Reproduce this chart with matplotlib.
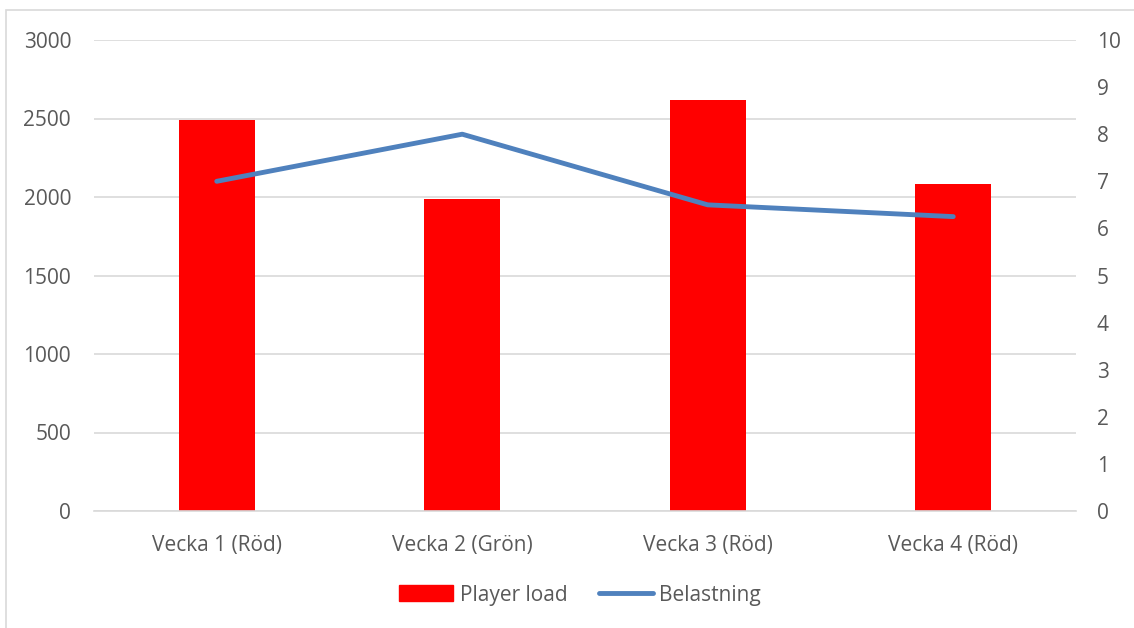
import matplotlib
matplotlib.use("Agg")
import matplotlib.pyplot as plt
from matplotlib.patches import Rectangle
from matplotlib.lines import Line2D

categories = ["Vecka 1 (Röd)", "Vecka 2 (Grön)", "Vecka 3 (Röd)", "Vecka 4 (Röd)"]
player_load = [2490, 1990, 2620, 2080]
belastning = [7.0, 8.0, 6.5, 6.25]
left_ticks = [0, 500, 1000, 1500, 2000, 2500, 3000]
right_ticks = list(range(0, 11))

plt.rcParams['font.family'] = ['Open Sans', 'DejaVu Sans']
txt = '#595959'
fs = 15
W, H = 1134, 628
fig = plt.figure(figsize=(W/100, H/100), dpi=100)
ax = fig.add_axes([94/W, 1-511/H, (1076-94)/W, (511-40)/H])
x = list(range(len(categories)))
ax.bar(x, player_load, width=0.31, color='#FF0000', zorder=2, label='Player load')
ax.set_xlim(-0.5, 3.5)
ax.set_ylim(0, 3000)
ax.set_yticks(left_ticks)
ax.grid(axis='y', color='#D9D9D9', linewidth=1.2, zorder=0)
for s in ['top', 'left', 'right']:
    ax.spines[s].set_visible(False)
ax.spines['bottom'].set_color('#D9D9D9')
ax.spines['bottom'].set_linewidth(1.2)
ax.set_xticks(x)
ax.set_xticklabels(categories)
ax.tick_params(axis='both', length=0, labelsize=fs, colors=txt)
ax.tick_params(axis='x', pad=17.5)
ax.tick_params(axis='y', pad=16.5)

ax2 = ax.twinx()
ax2.plot(x, belastning, color='#4F81BD', linewidth=3.5, solid_capstyle='round', zorder=3, label='Belastning')
ax2.set_ylim(0, 10)
ax2.set_yticks(right_ticks)
for s in ['top', 'left', 'right', 'bottom']:
    ax2.spines[s].set_visible(False)
ax2.tick_params(axis='y', length=0, labelsize=fs, colors=txt, pad=15)

handles = [Rectangle((0, 0), 1, 1, color='#FF0000'),
           Line2D([], [], color='#4F81BD', linewidth=3.5, solid_capstyle='round')]
fig.legend(handles, ['Player load', 'Belastning'], loc='center', bbox_to_anchor=(580/W, 1-595/H),
           ncol=2, frameon=False, fontsize=fs, labelcolor=txt, handlelength=2.6,
           handleheight=0.8, columnspacing=1.5, handletextpad=0.3)

fig.patches.append(Rectangle((6/W, -0.1), 1.2, 1-10/H+0.1, transform=fig.transFigure,
                             fill=False, edgecolor='#D9D9D9', linewidth=1.2))
fig.savefig('out.png', dpi=100)
